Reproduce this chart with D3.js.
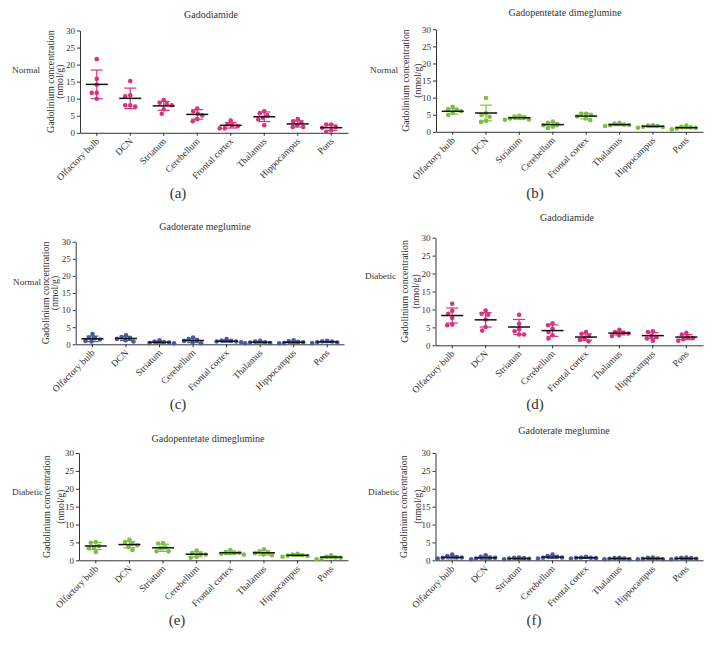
<!DOCTYPE html>
<html>
<head>
<meta charset="utf-8">
<script src="https://cdn.jsdelivr.net/npm/d3@7"></script>
<style>
  html, body { margin: 0; padding: 0; background: #fff; }
  svg { display: block; }
  text { font-family: "Liberation Serif", "DejaVu Serif", serif; fill: #333; }
</style>
</head>
<body>
<svg id="chart" width="715" height="655"></svg>
<script>
// ---------- data ----------
const categories = ["Olfactory bulb", "DCN", "Striatum", "Cerebellum", "Frontal cortex", "Thalamus", "Hippocampus", "Pons"];
const drugs = ["Gadodiamide", "Gadopentetate dimeglumine", "Gadoterate meglumine"];
const groups = ["Normal", "Diabetic"];
const yTicks = [0, 5, 10, 15, 20, 25, 30];
const panelLetters = ["(a)", "(b)", "(c)", "(d)", "(e)", "(f)"];
const yLabelLines = ["Gadolinium concentration", "(nmol/g)"];

// (a) Normal - Gadodiamide
const pointsA = [
  [21.6, 15.8, 14.1, 11.7, 11.7, 10.0],
  [15.2, 11.0, 10.7, 8.1, 8.1, 7.7],
  [9.6, 8.8, 8.4, 8.1, 6.9, 5.6],
  [7.1, 6.3, 5.6, 5.1, 4.0, 3.4],
  [3.6, 2.5, 2.2, 1.9, 1.3, 1.3],
  [6.3, 5.7, 5.1, 4.4, 3.9, 2.2],
  [4.0, 3.4, 3.0, 2.2, 1.7, 1.7],
  [2.4, 2.4, 1.7, 1.5, 0.7, 0.3]
];
const meanA = [14.2, 10.1, 7.9, 5.4, 2.2, 4.7, 2.6, 1.5];
const sdA   = [4.2, 3.0, 1.3, 1.4, 0.8, 1.4, 0.9, 0.8];

// (b) Normal - Gadopentetate dimeglumine
const pointsB = [
  [7.3, 6.6, 6.5, 6.0, 5.6, 4.9],
  [9.9, 5.4, 4.9, 4.4, 3.2, 2.9],
  [4.7, 4.5, 4.3, 3.9, 3.6, 3.5],
  [3.0, 2.6, 2.3, 1.9, 1.5, 1.1],
  [5.3, 5.3, 4.9, 4.5, 3.9, 3.4],
  [2.6, 2.4, 2.1, 2.0, 1.9, 1.7],
  [1.9, 1.8, 1.7, 1.5, 1.4, 1.2],
  [1.8, 1.5, 1.3, 1.1, 1.0, 0.7]
];
const meanB = [6.0, 5.5, 4.1, 2.1, 4.6, 2.1, 1.6, 1.2];
const sdB   = [0.8, 2.3, 0.5, 0.6, 0.8, 0.3, 0.3, 0.3];

// (c) Normal - Gadoterate meglumine
const pointsC = [
  [3.0, 2.0, 1.8, 1.4, 1.0, 0.8],
  [2.6, 2.1, 1.8, 1.6, 1.2, 0.8],
  [1.2, 0.8, 0.6, 0.5, 0.4, 0.3],
  [2.0, 1.5, 1.2, 1.0, 0.6, 0.3],
  [1.5, 1.1, 1.0, 0.8, 0.8, 0.6],
  [1.0, 0.8, 0.6, 0.5, 0.4, 0.3],
  [1.2, 0.9, 0.7, 0.6, 0.4, 0.3],
  [1.0, 0.9, 0.8, 0.6, 0.5, 0.4]
];
const meanC = [1.6, 1.7, 0.6, 1.1, 0.9, 0.6, 0.6, 0.7];
const sdC   = [0.8, 0.6, 0.3, 0.6, 0.3, 0.25, 0.3, 0.2];

// (d) Diabetic - Gadodiamide
const pointsD = [
  [11.6, 9.6, 8.8, 7.6, 5.8, 5.6],
  [9.7, 8.8, 8.5, 7.2, 5.1, 4.1],
  [8.5, 6.0, 4.5, 3.9, 3.0, 3.0],
  [6.1, 5.6, 4.6, 3.7, 2.8, 1.9],
  [3.7, 3.2, 2.6, 2.0, 1.5, 1.1],
  [4.3, 3.7, 3.5, 3.3, 2.8, 2.6],
  [3.9, 3.7, 2.6, 2.3, 1.9, 1.3],
  [3.5, 3.0, 2.2, 2.0, 1.7, 1.3]
];
const meanD = [8.3, 7.1, 5.1, 4.1, 2.3, 3.4, 2.7, 2.3];
const sdD   = [2.1, 2.0, 2.1, 1.6, 0.9, 0.5, 0.8, 0.7];

// (e) Diabetic - Gadopentetate dimeglumine
const pointsE = [
  [5.1, 4.9, 4.0, 3.6, 3.4, 2.3],
  [5.7, 5.1, 4.6, 4.2, 3.8, 2.9],
  [4.8, 4.7, 3.6, 3.4, 2.5, 2.5],
  [2.7, 2.0, 1.8, 1.6, 1.0, 0.7],
  [2.9, 2.3, 2.1, 2.1, 1.8, 1.6],
  [3.1, 2.5, 2.2, 2.0, 1.6, 1.4],
  [1.8, 1.6, 1.4, 1.3, 1.2, 1.0],
  [1.4, 1.0, 0.8, 0.7, 0.5, 0.3]
];
const meanE = [4.0, 4.4, 3.5, 1.7, 2.1, 2.1, 1.4, 0.9];
const sdE   = [1.0, 0.9, 1.0, 0.7, 0.5, 0.6, 0.3, 0.3];

// (f) Diabetic - Gadoterate meglumine
const pointsF = [
  [1.6, 1.2, 0.9, 0.8, 0.7, 0.5],
  [1.4, 1.0, 0.8, 0.7, 0.5, 0.3],
  [0.8, 0.7, 0.6, 0.5, 0.4, 0.3],
  [1.6, 1.2, 1.0, 0.8, 0.7, 0.5],
  [1.0, 0.8, 0.7, 0.7, 0.6, 0.5],
  [0.7, 0.6, 0.5, 0.4, 0.3, 0.3],
  [0.8, 0.7, 0.5, 0.4, 0.3, 0.3],
  [0.8, 0.7, 0.6, 0.5, 0.4, 0.3]
];
const meanF = [0.8, 0.7, 0.5, 0.9, 0.7, 0.5, 0.5, 0.5];
const sdF   = [0.4, 0.4, 0.2, 0.4, 0.2, 0.15, 0.2, 0.2];

const drugColors = ["#d8337c", "#7dbf45", "#4c5a9f"];

// ---------- layout (positions only) ----------
const layout = [
  { ax: 80,    x1: 348, yTop: 30.5,  y0: 132.8, titleX: 211, titleY: 16,  rowX: 12,  rowY: 71,  l1: -28.5, l2: -19.5, letX: 178, letY: 195 },
  { ax: 436,   x1: 703, yTop: 29.3,  y0: 131.8, titleX: 565, titleY: 14,  rowX: 370, rowY: 70.5, l1: -29.5, l2: -17.7, letX: 535, letY: 195 },
  { ax: 75.7,  x1: 344, yTop: 241.7, y0: 344.3, titleX: 205, titleY: 227.5, rowX: 13, rowY: 283, l1: -28.5, l2: -19.5, letX: 178, letY: 406 },
  { ax: 435.5, x1: 703, yTop: 237.7, y0: 345.3, titleX: 567, titleY: 218.5, rowX: 365, rowY: 277, l1: -29.5, l2: -18.3, letX: 535, letY: 406 },
  { ax: 79,    x1: 348, yTop: 453,   y0: 560.3, titleX: 208, titleY: 439.5, rowX: 12, rowY: 493, l1: -31.3, l2: -17.5, letX: 177, letY: 622 },
  { ax: 435.5, x1: 703, yTop: 453,   y0: 560.3, titleX: 564, titleY: 432, rowX: 368, rowY: 493, l1: -30.7, l2: -17.2, letX: 534, letY: 622 }
];

const panels = [
  { drug: 0, group: 0, points: pointsA, mean: meanA, sd: sdA },
  { drug: 1, group: 0, points: pointsB, mean: meanB, sd: sdB },
  { drug: 2, group: 0, points: pointsC, mean: meanC, sd: sdC },
  { drug: 0, group: 1, points: pointsD, mean: meanD, sd: sdD },
  { drug: 1, group: 1, points: pointsE, mean: meanE, sd: sdE },
  { drug: 2, group: 1, points: pointsF, mean: meanF, sd: sdF }
];

// ---------- drawing ----------
const svg = d3.select("#chart");
const R = 2.3;
const D = 4.8; // min center distance in swarm

function swarm(vals, y) {
  // deterministic beeswarm offsets (in px) for one category
  const order = vals.map((v, i) => i).sort((a, b) => vals[b] - vals[a]);
  const placed = [];
  const off = new Array(vals.length).fill(0);
  order.forEach(i => {
    const py = y(vals[i]);
    for (let k = 0; k < 200; k++) {
      const dx = (k % 2 === 0 ? 1 : -1) * Math.ceil(k / 2) * 0.5;
      const ok = placed.every(p => (p.x - dx) ** 2 + (p.y - py) ** 2 >= D * D);
      if (ok) { off[i] = dx; placed.push({ x: dx, y: py }); break; }
    }
  });
  return off;
}

panels.forEach((p, pi) => {
  const L = layout[pi];
  const color = drugColors[p.drug];
  const g = svg.append("g");

  const x = d3.scaleBand().domain(categories).range([L.ax, L.x1]).padding(0);
  const y = d3.scaleLinear().domain([0, 30]).range([L.y0, L.yTop]);
  const cx = c => x(c) + x.bandwidth() / 2;

  // y axis
  const yAx = g.append("g").attr("transform", `translate(${L.ax},0)`)
    .call(d3.axisLeft(y).tickValues(yTicks).tickSize(3).tickPadding(2).tickSizeOuter(0));
  yAx.selectAll("text").style("font-size", "9px").style("font-family", '"Liberation Serif", serif').attr("fill", "#333");
  yAx.selectAll("line, path").attr("stroke", "#333");

  // x axis
  const xAx = g.append("g").attr("transform", `translate(0,${L.y0})`)
    .call(d3.axisBottom(x).tickSize(3).tickSizeOuter(0));
  xAx.selectAll("line, path").attr("stroke", "#333");
  xAx.selectAll("text")
    .style("font-size", "9.5px").style("font-family", '"Liberation Serif", serif').attr("fill", "#333")
    .attr("text-anchor", "end")
    .attr("dy", null).attr("y", 0)
    .attr("transform", "translate(3,9) rotate(-45)");

  // title
  g.append("text").attr("x", L.titleX).attr("y", L.titleY)
    .attr("text-anchor", "middle").attr("dominant-baseline", "middle")
    .style("font-size", "10px").text(drugs[p.drug]);

  // row label
  g.append("text").attr("x", L.rowX).attr("y", L.rowY)
    .attr("dominant-baseline", "middle")
    .style("font-size", "9.2px").text(groups[p.group]);

  // y label
  const ym = (L.y0 + L.yTop) / 2;
  [L.l1, L.l2].forEach((dx, k) => {
    g.append("text")
      .attr("transform", `translate(${L.ax + dx},${ym}) rotate(-90)`)
      .attr("text-anchor", "middle").attr("dominant-baseline", "middle")
      .style("font-size", "9.8px").text(yLabelLines[k]);
  });

  // panel letter
  g.append("text").attr("x", L.letX).attr("y", L.letY)
    .attr("text-anchor", "middle").attr("dominant-baseline", "middle")
    .style("font-size", "15px").attr("fill", "#111").text(panelLetters[pi]);

  // points
  categories.forEach((c, ci) => {
    const vals = p.points[ci];
    const offs = swarm(vals, y);
    g.append("g").selectAll("circle").data(vals).join("circle")
      .attr("cx", (v, i) => cx(c) + offs[i])
      .attr("cy", v => y(v))
      .attr("r", R)
      .attr("fill", color);
  });

  // error bars + mean
  categories.forEach((c, ci) => {
    const m = p.mean[ci], s = p.sd[ci];
    const xc = cx(c);
    const eb = g.append("g").attr("stroke", color).attr("stroke-width", 1.2).attr("fill", "none");
    eb.append("line").attr("x1", xc).attr("x2", xc).attr("y1", y(m - s)).attr("y2", y(m + s));
    eb.append("line").attr("x1", xc - 6).attr("x2", xc + 6).attr("y1", y(m + s)).attr("y2", y(m + s));
    eb.append("line").attr("x1", xc - 6).attr("x2", xc + 6).attr("y1", y(m - s)).attr("y2", y(m - s));
    g.append("line").attr("x1", xc - 11).attr("x2", xc + 11).attr("y1", y(m)).attr("y2", y(m))
      .attr("stroke", "#111").attr("stroke-width", 1.5);
  });
});
</script>
</body>
</html>
